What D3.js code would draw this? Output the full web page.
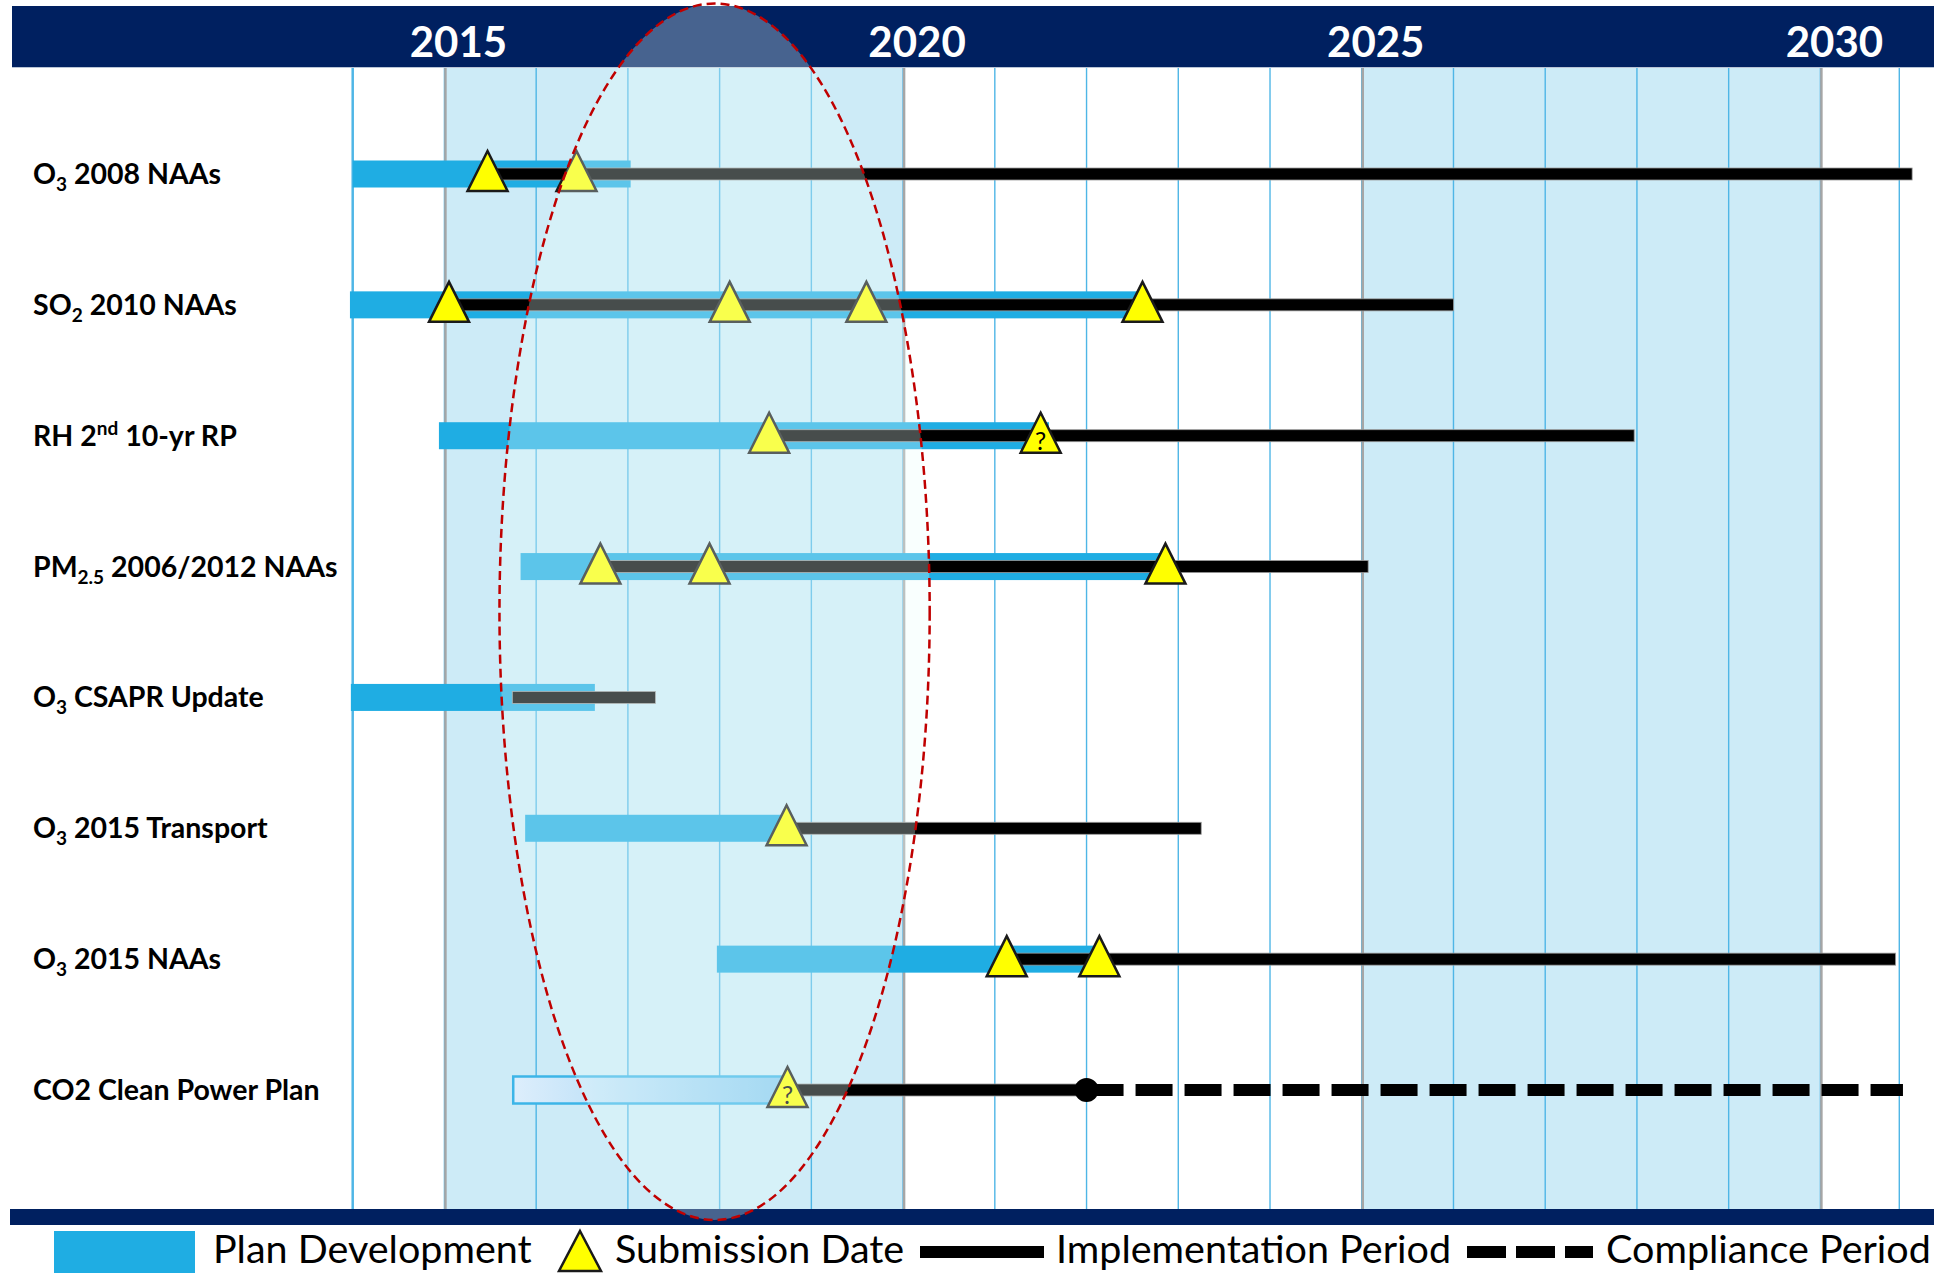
<!DOCTYPE html>
<html><head><meta charset="utf-8">
<script src="https://cdn.jsdelivr.net/npm/d3@7"></script>
<style>body{margin:0;background:#fff}svg{display:block}</style>
</head><body>
<svg id="c" width="1934" height="1274"></svg>
<script>
// ---------------- data ----------------
const categories = ["O_3 2008 NAAs","SO_2 2010 NAAs","RH 2^nd 10-yr RP","PM_2.5 2006/2012 NAAs",
  "O_3 CSAPR Update","O_3 2015 Transport","O_3 2015 NAAs","CO2 Clean Power Plan"];
const planStart = [2014.0, 2013.97, 2014.94, 2015.83, 2013.98, 2015.88, 2017.97, 2015.75];
const planEnd   = [2017.03, 2022.56, 2021.59, 2022.8, 2016.64, 2018.72, 2022.12, 2018.7];
const planTentative = [false,false,false,false,false,false,false,true];
const submissions = [[2015.47,2016.44],[2015.05,2018.11,2019.6,2022.61],[2018.54,2021.5],
  [2016.7,2017.89,2022.86],[],[2018.73],[2021.13,2022.14],[2018.74]];
const submissionUncertain = [[false,false],[false,false,false,false],[false,true],
  [false,false,false],[],[false],[false,false],[true]];
const implStart = [2015.47, 2015.1, 2018.6, 2016.75, 2015.74, 2018.75, 2021.15, 2018.75];
const implEnd   = [2031.0, 2026.0, 2027.97, 2025.07, 2017.3, 2023.25, 2030.82, 2022.0];
const complianceStart = [null,null,null,null,null,null,null,2022.0];
const complianceEnd   = [null,null,null,null,null,null,null,2030.9];
const milestones = [null,null,null,null,null,null,null,2022.0];
const yearLabels = [2015, 2020, 2025, 2030];
const gridYears = d3.range(2014, 2031);
const endYear = 2030.86;
const shadedPeriods = [[2015,2020],[2025,2030]];
const highlightPeriod = [2015.6, 2020.29];
const legendLabels = ["Plan Development","Submission Date","Implementation Period","Compliance Period"];

// ---------------- layout ----------------
const W = 1934, H = 1274;
const plotTop = 67, plotBottom = 1209;
const FONT = "Lato, 'Open Sans', sans-serif";
const svg = d3.select("#c");
const x = d3.scaleLinear().domain([2014, 2030]).range([352.7, 1820.4]);
const y = d3.scalePoint().domain(categories).range([174, 1090]);

const defs = svg.append("defs");
const grad = defs.append("linearGradient").attr("id","tent").attr("x1","0").attr("x2","1").attr("y1","0").attr("y2","0");
grad.append("stop").attr("offset","0").attr("stop-color","#ddeefc");
grad.append("stop").attr("offset","1").attr("stop-color","#86c9ef");

svg.append("rect").attr("width",W).attr("height",H).attr("fill","#fff");

// shaded periods
svg.append("g").selectAll("rect").data(shadedPeriods).join("rect")
  .attr("x",d=>x(d[0])).attr("width",d=>x(d[1])-x(d[0]))
  .attr("y",plotTop).attr("height",plotBottom-plotTop).attr("fill","#cdebf7");

// grid lines
svg.append("g").selectAll("line").data(gridYears.concat([endYear])).join("line")
  .attr("x1",d=>x(d)).attr("x2",d=>x(d)).attr("y1",plotTop).attr("y2",plotBottom)
  .attr("stroke","#4fb6e6").attr("stroke-width",d=>d===gridYears[0]?2.5:1.4);
svg.append("g").selectAll("line").data(shadedPeriods.flat()).join("line")
  .attr("x1",d=>x(d)+1).attr("x2",d=>x(d)+1).attr("y1",plotTop).attr("y2",plotBottom)
  .attr("stroke","#a6a6a6").attr("stroke-width",2.5);

// header
svg.append("rect").attr("x",12).attr("y",6).attr("width",W-12).attr("height",plotTop-6).attr("fill","#002060");
svg.append("line").attr("x1",12).attr("x2",W).attr("y1",plotTop+0.5).attr("y2",plotTop+0.5).attr("stroke","#b8c4d6").attr("stroke-width",1);
svg.append("g").selectAll("text").data(yearLabels).join("text")
  .attr("x",d=>x(d)+14).attr("y",57).attr("text-anchor","middle")
  .attr("font-family",FONT).attr("font-weight",700).attr("font-size",42).attr("fill","#fff")
  .text(d=>d);

// bottom band
svg.append("rect").attr("x",10).attr("y",plotBottom).attr("width",W-10).attr("height",16).attr("fill","#002060");

// rows
const rows = categories.map((c,i)=>({c,i}));
const gRows = svg.append("g");
// plan development bars
gRows.selectAll("rect.plan").data(rows).join("rect").attr("class","plan")
  .attr("x",d=>x(planStart[d.i])).attr("width",d=>x(planEnd[d.i])-x(planStart[d.i]))
  .attr("y",d=>y(d.c)-13.5).attr("height",27)
  .attr("fill",d=>planTentative[d.i]?"url(#tent)":"#1fade3")
  .attr("stroke",d=>planTentative[d.i]?"#3cb5e8":"none")
  .attr("stroke-width",2.5);
// implementation lines
gRows.selectAll("rect.impl").data(rows).join("rect").attr("class","impl")
  .attr("x",d=>x(implStart[d.i])).attr("width",d=>x(implEnd[d.i])-x(implStart[d.i]))
  .attr("y",d=>y(d.c)-6).attr("height",12)
  .attr("fill","#000").attr("stroke","#9a9a9a").attr("stroke-width",0.8);
// compliance (dashed)
gRows.selectAll("line.comp").data(rows.filter(d=>complianceStart[d.i]!==null)).join("line").attr("class","comp")
  .attr("x1",d=>x(complianceStart[d.i])).attr("x2",d=>x(complianceEnd[d.i]))
  .attr("y1",d=>y(d.c)).attr("y2",d=>y(d.c))
  .attr("stroke","#000").attr("stroke-width",12).attr("stroke-dasharray","37,12");
// milestone dots
gRows.selectAll("circle.ms").data(rows.filter(d=>milestones[d.i]!==null)).join("circle").attr("class","ms")
  .attr("cx",d=>x(milestones[d.i])).attr("cy",d=>y(d.c)).attr("r",12).attr("fill","#000");
// submission triangles
const subs = [];
rows.forEach(d=>submissions[d.i].forEach((yr,k)=>subs.push({c:d.c, yr, q:submissionUncertain[d.i][k]})));
const tri = (cx, base, w, h) => `M${cx},${base-h}L${cx+w/2},${base}L${cx-w/2},${base}Z`;
gRows.selectAll("path.sub").data(subs).join("path").attr("class","sub")
  .attr("d",d=>tri(x(d.yr), y(d.c)+17, 40, 40))
  .attr("fill","#ffff00").attr("stroke","#1a1a1a").attr("stroke-width",2.5).attr("stroke-linejoin","miter");
gRows.selectAll("text.q").data(subs.filter(d=>d.q)).join("text").attr("class","q")
  .attr("x",d=>x(d.yr)).attr("y",d=>y(d.c)+14).attr("text-anchor","middle")
  .attr("font-family",FONT).attr("font-size",25).attr("fill","#000").text("?");

// highlight ellipse
const eTop = 3.5, eBottom = 1220;
svg.append("ellipse")
  .attr("cx",(x(highlightPeriod[0])+x(highlightPeriod[1]))/2)
  .attr("rx",(x(highlightPeriod[1])-x(highlightPeriod[0]))/2)
  .attr("cy",(eTop+eBottom)/2).attr("ry",(eBottom-eTop)/2)
  .attr("fill","rgb(235,255,252)").attr("fill-opacity",0.3)
  .attr("stroke","#c00000").attr("stroke-width",2.5).attr("stroke-dasharray","9,5");

// row labels
const gLab = svg.append("g");
rows.forEach(d=>{
  const t = gLab.append("text").attr("x",33).attr("y",y(d.c)+10)
    .attr("font-family",FONT).attr("font-weight",700).attr("font-size",28.5).attr("fill","#000");
  const re = /([_^])(\S+)/g;
  let last = 0, m, shift = 0;
  while((m = re.exec(d.c))){
    if(m.index>last){ t.append("tspan").attr("dy",-shift).text(d.c.slice(last,m.index)); shift=0; }
    const s = m[1]==="_" ? 7 : -11;
    t.append("tspan").attr("dy",s-shift).attr("font-size",19).text(m[2]);
    shift = s; last = m.index+m[0].length;
  }
  if(last<d.c.length){ t.append("tspan").attr("dy",-shift).text(d.c.slice(last)); }
});

// legend
const gL = svg.append("g").attr("font-family",FONT).attr("font-size",39.5).attr("fill","#000");
const ly = 1252;
gL.append("rect").attr("x",54).attr("y",1231).attr("width",141).attr("height",42).attr("fill","#1fade3");
gL.append("text").attr("x",213).attr("y",ly+11).text(legendLabels[0]);
gL.append("path").attr("d",tri(580,1271,42,40)).attr("fill","#ffff00").attr("stroke","#1a1a1a").attr("stroke-width",2.5);
gL.append("text").attr("x",615).attr("y",ly+11).text(legendLabels[1]);
gL.append("rect").attr("x",920).attr("y",ly-6).attr("width",124).attr("height",12).attr("fill","#000");
gL.append("text").attr("x",1056).attr("y",ly+11).text(legendLabels[2]);
gL.append("line").attr("x1",1467).attr("x2",1593).attr("y1",ly).attr("y2",ly)
  .attr("stroke","#000").attr("stroke-width",12).attr("stroke-dasharray","39,10");
gL.append("text").attr("x",1606).attr("y",ly+11).text(legendLabels[3]);
</script>
</body></html>
